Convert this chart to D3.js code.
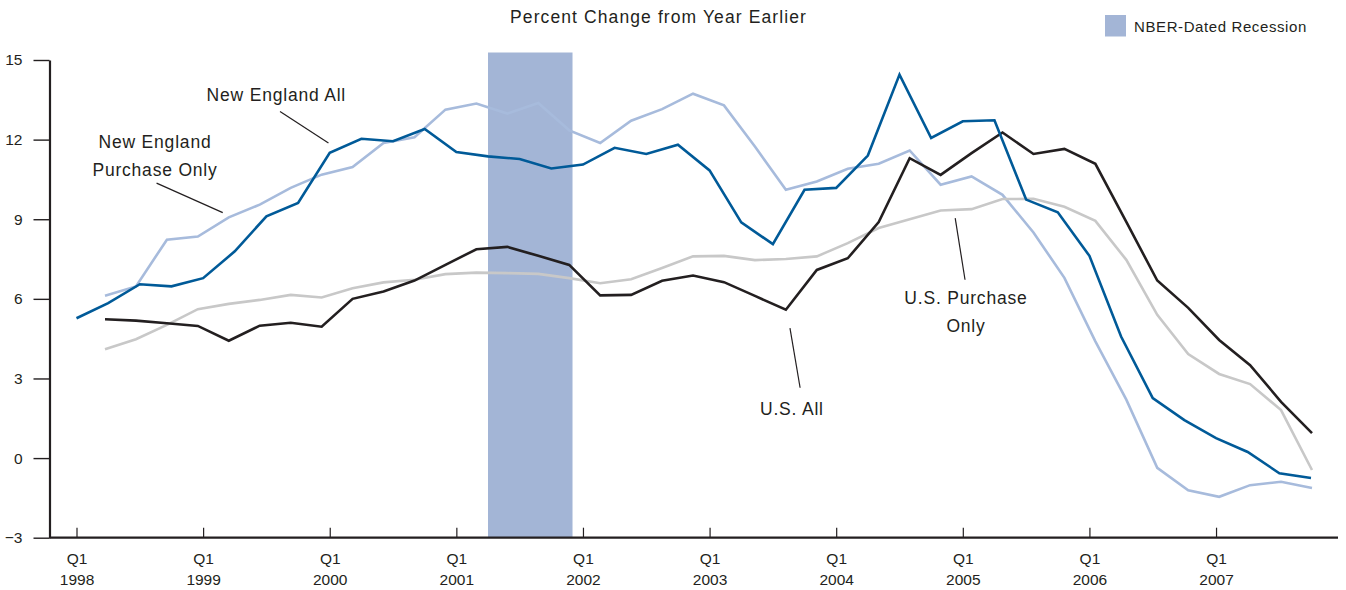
<!DOCTYPE html>
<html>
<head>
<meta charset="utf-8">
<script src="https://cdn.jsdelivr.net/npm/d3@7"></script>
<style>
  body { margin: 0; background: #fff; }
  svg { display: block; font-family: "Liberation Sans", Arial, sans-serif; }
  text { fill: #231f20; }
</style>
</head>
<body>
<div id="chart"></div>
<script>
// Quarters are counted from 1998 Q1 (index 0) to 2007 Q4 (index 39)
const tickYears = ['1998', '1999', '2000', '2001', '2002', '2003', '2004', '2005', '2006', '2007'];
const tickQuarters = [0, 4, 8, 12, 16, 20, 24, 28, 32, 36];

const newEnglandAll = [
  5.27, 5.84, 6.55, 6.47, 6.78, 7.79, 9.11, 9.61, 11.5, 12.03,
  11.94, 12.4, 11.53, 11.37, 11.27, 10.91, 11.06, 11.69, 11.46, 11.81,
  10.84, 8.88, 8.06, 10.11, 10.18, 11.4, 14.45, 12.06, 12.69, 12.73,
  9.74, 9.26, 7.62, 4.58, 2.26, 1.43, 0.75, 0.23, -0.57, -0.75
];

// these three start one quarter later and run over a slightly shorter span in the source
const newEnglandPurchaseOnly = [
  6.12, 6.47, 8.23, 8.35, 9.07, 9.55, 10.18, 10.68, 10.97, 11.87,
  12.09, 13.13, 13.36, 12.98, 13.38, 12.35, 11.87, 12.71, 13.15, 13.73,
  13.29, 11.74, 10.11, 10.42, 10.9, 11.09, 11.59, 10.3, 10.61, 9.92,
  8.5, 6.79, 4.4, 2.2, -0.37, -1.21, -1.46, -1.02, -0.89, -1.13
];
const usAll = [
  5.23, 5.18, 5.08, 4.98, 4.42, 4.99, 5.1, 4.95, 6.0, 6.28,
  6.69, 7.28, 7.87, 7.96, 7.62, 7.28, 6.13, 6.15, 6.68, 6.88,
  6.63, 6.11, 5.59, 7.09, 7.53, 8.89, 11.3, 10.67, 11.49, 12.27,
  11.46, 11.65, 11.09, 8.9, 6.69, 5.66, 4.45, 3.5, 2.12, 0.94
];
const usPurchaseOnly = [
  4.1, 4.48, 5.02, 5.61, 5.81, 5.96, 6.15, 6.05, 6.4, 6.62,
  6.72, 6.93, 6.99, 6.97, 6.94, 6.78, 6.59, 6.74, 7.16, 7.6,
  7.62, 7.46, 7.5, 7.6, 8.1, 8.67, 9.0, 9.33, 9.38, 9.76,
  9.77, 9.47, 8.94, 7.47, 5.4, 3.92, 3.17, 2.79, 1.81, -0.45
];

// NBER recession, April 2001 to end of November 2001, in quarters from 1998 Q1
const recession = [13, 15.67];

const yTicks = [-3, 0, 3, 6, 9, 12, 15];

const width = 1346, height = 590;

const svg = d3.select('#chart')
  .append('svg')
    .attr('width', width)
    .attr('height', height);

const x = d3.scaleLinear().domain([0, 39]).range([76.5, 1311]);
const xLag = d3.scaleLinear().domain([0, 39]).range([105, 1312]);
const y = d3.scaleLinear().domain([-3, 15]).range([537.7, 60]);

// recession band
svg.append('rect')
  .attr('x', x(recession[0]))
  .attr('width', x(recession[1]) - x(recession[0]))
  .attr('y', y(15) - 7.5)
  .attr('height', y(-3) - y(15) + 7.5)
  .attr('fill', '#a3b5d6');

// y axis
const yAxis = svg.append('g')
  .attr('transform', 'translate(49.5,0)')
  .call(d3.axisLeft(y).tickValues(yTicks).tickSize(16).tickSizeOuter(0).tickPadding(11));
yAxis.select('.domain').attr('stroke', '#231f20').attr('stroke-width', 2.2);
yAxis.selectAll('.tick line').attr('stroke', '#231f20').attr('stroke-width', 1.4);
yAxis.selectAll('.tick text')
  .attr('fill', '#231f20')
  .style('font-size', '15.5px')
  .style('font-family', '"Liberation Sans", Arial, sans-serif');

// x axis
const xAxis = svg.append('g')
  .attr('transform', 'translate(0,' + y(-3) + ')')
  .call(d3.axisBottom(x).tickValues(tickQuarters).tickSizeInner(-10).tickSizeOuter(0).tickFormat(''));
xAxis.select('.domain').remove();
xAxis.selectAll('.tick line').attr('stroke', '#231f20').attr('stroke-width', 1.2);
xAxis.append('line')
  .attr('x1', 49.5).attr('x2', 1338)
  .attr('stroke', '#231f20')
  .attr('stroke-width', 2.2);

xAxis.selectAll('.tick').each(function (d, i) {
  const t = d3.select(this);
  t.append('text')
    .attr('y', 26)
    .attr('text-anchor', 'middle')
    .attr('fill', '#231f20')
    .style('font-size', '15.5px')
    .text('Q1');
  t.append('text')
    .attr('y', 47)
    .attr('text-anchor', 'middle')
    .attr('fill', '#231f20')
    .style('font-size', '15.5px')
    .text(tickYears[i]);
});

// lines
const series = [
  { values: newEnglandPurchaseOnly, scale: xLag, color: '#a7bbdc' },
  { values: usPurchaseOnly, scale: xLag, color: '#c8c8c8' },
  { values: usAll, scale: xLag, color: '#231f20' },
  { values: newEnglandAll, scale: x, color: '#005a98' }
];

series.forEach(s => {
  const line = d3.line()
    .x((d, i) => s.scale(i))
    .y(d => y(d));
  svg.append('path')
    .datum(s.values)
    .attr('d', line)
    .attr('fill', 'none')
    .attr('stroke', s.color)
    .attr('stroke-width', 2.6)
    .attr('stroke-linejoin', 'miter');
});

// annotations, placed in data units (quarter, percent)
const labels = [
  { text: 'New England All', q: 4.11, v: 13.44, anchor: 'start' },
  { text: 'New England', q: 2.48, v: 11.68, anchor: 'middle' },
  { text: 'Purchase Only', q: 2.48, v: 10.64, anchor: 'middle' },
  { text: 'U.S. Purchase', q: 28.1, v: 5.81, anchor: 'middle' },
  { text: 'Only', q: 28.1, v: 4.76, anchor: 'middle' },
  { text: 'U.S. All', q: 22.6, v: 1.63, anchor: 'middle' }
];
const leaders = [
  [[6.43, 13.06], [7.96, 11.87]],
  [[2.53, 10.36], [4.62, 9.25]],
  [[27.76, 9.04], [28.07, 6.72]],
  [[22.54, 4.9], [22.86, 2.65]]
];

svg.selectAll('.label')
  .data(labels)
  .enter().append('text')
    .attr('class', 'label')
    .attr('x', d => x(d.q))
    .attr('y', d => y(d.v))
    .attr('text-anchor', d => d.anchor)
    .style('font-size', '17.5px')
    .style('letter-spacing', '0.8px')
    .text(d => d.text);

svg.selectAll('.leader')
  .data(leaders)
  .enter().append('line')
    .attr('class', 'leader')
    .attr('x1', d => x(d[0][0]))
    .attr('y1', d => y(d[0][1]))
    .attr('x2', d => x(d[1][0]))
    .attr('y2', d => y(d[1][1]))
    .attr('stroke', '#231f20')
    .attr('stroke-width', 1.2);

// title
svg.append('text')
  .attr('x', 658.5)
  .attr('y', 23)
  .attr('text-anchor', 'middle')
  .style('font-size', '17.5px')
  .style('letter-spacing', '1.1px')
  .text('Percent Change from Year Earlier');

// legend
svg.append('rect')
  .attr('x', 1105).attr('y', 15)
  .attr('width', 21).attr('height', 21.5)
  .attr('fill', '#a3b5d6');
svg.append('text')
  .attr('x', 1134)
  .attr('y', 31.5)
  .style('font-size', '15px')
  .style('letter-spacing', '0.6px')
  .text('NBER-Dated Recession');
</script>
</body>
</html>
